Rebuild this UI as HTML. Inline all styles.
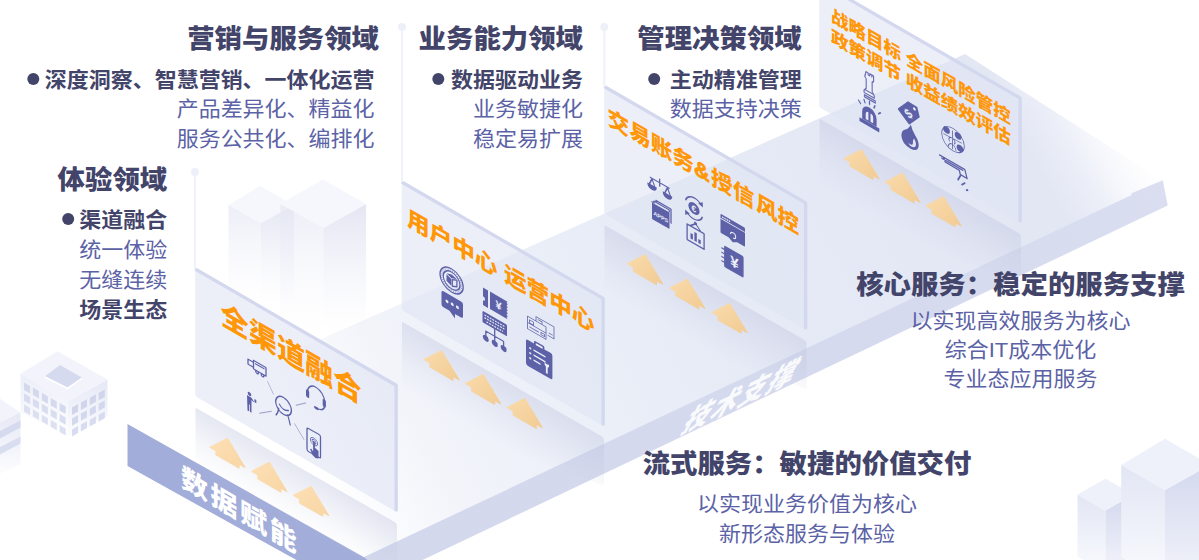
<!DOCTYPE html>
<html lang="zh-CN"><head><meta charset="utf-8"><title>架构</title>
<style>
html,body{margin:0;padding:0;background:#fff;}
body{width:1199px;height:560px;overflow:hidden;position:relative;font-family:"Liberation Sans","Noto Sans CJK SC",sans-serif;}
svg{position:absolute;left:0;top:0;display:block}
text{font-family:"Liberation Sans","Noto Sans CJK SC",sans-serif;}
.h{font-weight:900;font-size:27.4px;fill:#43446a;}
.b{font-weight:700;font-size:22px;fill:#43446a;}
.r{font-weight:400;font-size:22px;fill:#5b62a6;}
.o{font-weight:900;fill:#ff9708;}
.ic{fill:#5d61a8;stroke:none}
.il{fill:none;stroke:#5d61a8;stroke-width:1.3;stroke-linecap:round;stroke-linejoin:round}
.it{fill:none;stroke:#5d61a8;stroke-width:0.8;stroke-linecap:round;stroke-linejoin:round}
.iw{fill:#eef0fa;stroke:none}
</style></head><body>
<svg width="1199" height="560" viewBox="0 0 1199 560">
<defs>
<linearGradient id="gfloor" gradientUnits="userSpaceOnUse" x1="330" y1="500" x2="1150" y2="60">
<stop offset="0" stop-color="#ffffff"/><stop offset="0.06" stop-color="#f9fafd"/><stop offset="0.12" stop-color="#f2f4fa"/><stop offset="0.3" stop-color="#ebeff8"/><stop offset="0.45" stop-color="#e7ebf6"/><stop offset="0.72" stop-color="#e4e8f5"/><stop offset="0.84" stop-color="#e3e7f4"/><stop offset="0.88" stop-color="#eceff8"/><stop offset="0.906" stop-color="#f6f7fc"/><stop offset="0.93" stop-color="#fcfcfe"/><stop offset="0.95" stop-color="#ffffff"/>
</linearGradient>
<linearGradient id="gband" gradientUnits="userSpaceOnUse" x1="364" y1="557" x2="1165" y2="190">
<stop offset="0" stop-color="#d3d8ed"/><stop offset="0.7" stop-color="#d5daee"/><stop offset="1" stop-color="#dadef0"/>
</linearGradient>
<linearGradient id="garrow" x1="0" y1="0" x2="1" y2="1">
<stop offset="0" stop-color="#fadbab"/><stop offset="1" stop-color="#f1cb94"/>
</linearGradient>
<linearGradient id="garrow0" x1="0" y1="0" x2="1" y2="1">
<stop offset="0" stop-color="#fde0b5"/><stop offset="1" stop-color="#f8d5a4"/>
</linearGradient>
<linearGradient id="gcl" x1="0" y1="0" x2="0" y2="1"><stop offset="0" stop-color="#e6e8f4" stop-opacity="0.75"/><stop offset="0.9" stop-color="#f4f5fb" stop-opacity="0"/></linearGradient>
<linearGradient id="gcr" x1="0" y1="0" x2="0" y2="1"><stop offset="0" stop-color="#dcdfef" stop-opacity="0.8"/><stop offset="0.9" stop-color="#eef0f8" stop-opacity="0"/></linearGradient>
<linearGradient id="gbl" x1="0" y1="0" x2="0" y2="1"><stop offset="0" stop-color="#e2e6f4"/><stop offset="1" stop-color="#fafbfe"/></linearGradient>
<linearGradient id="gbr" x1="0" y1="0" x2="0" y2="1"><stop offset="0" stop-color="#d3d8ed"/><stop offset="1" stop-color="#f3f4fb"/></linearGradient>
<linearGradient id="gsl" x1="0" y1="0" x2="0" y2="1"><stop offset="0" stop-color="#eceef8"/><stop offset="1" stop-color="#ffffff"/></linearGradient>
<linearGradient id="gsr" x1="0" y1="0" x2="0" y2="1"><stop offset="0" stop-color="#e5e8f5"/><stop offset="1" stop-color="#fdfdff"/></linearGradient>
</defs>

<g id="bg">
<polygon points="228.5,205.0 261.0,223.0 261.0,318.0 228.5,300.0" fill="url(#gcl)"/>
<polygon points="261.0,223.0 294.0,205.0 294.0,300.0 261.0,318.0" fill="url(#gcr)"/>
<polygon points="260.0,186.0 294.0,205.0 261.0,223.0 228.5,205.0" fill="#f6f7fc"/>
<polygon points="280.3,204.0 323.4,227.7 323.4,347.7 280.3,324.0" fill="url(#gcl)"/>
<polygon points="323.4,227.7 366.1,204.0 366.1,324.0 323.4,347.7" fill="url(#gcr)"/>
<polygon points="322.7,179.5 366.1,204.0 323.4,227.7 280.3,204.0" fill="#f6f7fc"/>
<polygon points="1077.5,494.5 1105.5,510.5 1105.5,572.5 1077.5,556.5" fill="url(#gbl)"/>
<polygon points="1105.5,510.5 1133.5,494.5 1133.5,556.5 1105.5,572.5" fill="url(#gbr)"/>
<polygon points="1105.5,478.7 1133.5,494.5 1105.5,510.5 1077.5,494.5" fill="#eff1fa"/>
<polygon points="1121.2,465.0 1165.0,490.0 1165.0,582.0 1121.2,557.0" fill="url(#gbl)"/>
<polygon points="1165.0,490.0 1210.0,465.0 1210.0,557.0 1165.0,582.0" fill="url(#gbr)"/>
<polygon points="1165.0,438.7 1210.0,465.0 1165.0,490.0 1121.2,465.0" fill="#eef0fa"/>
<polygon points="0.0,398.7 20.5,412.5 0.0,422.5" fill="#f3f4fb"/>
<polygon points="0.0,422.5 20.5,412.5 20.5,464.0 0.0,474.0" fill="url(#gsr)"/>
<polygon points="0.0,431.0 20.5,420.5 20.5,427.5 0.0,438.5" fill="#d6daee"/>
<polygon points="0.0,447.0 20.5,436.5 20.5,443.5 0.0,454.5" fill="#d9ddf0"/>
<polygon points="20.5,373.7 68.0,401.2 68.0,437.0 20.5,412.0" fill="url(#gsl)"/>
<polygon points="68.0,401.2 107.5,379.5 107.5,416.0 68.0,437.0" fill="url(#gsr)"/>
<polygon points="57.5,351.2 107.5,379.5 68.0,401.2 20.5,373.7" fill="#f3f4fb"/>
<polygon points="60.0,365.0 82.0,377.5 67.5,387.5 45.0,376.2" fill="#d6daee"/>
<polygon points="82.0,377.5 82.0,379.3 67.5,389.5 45.0,378.0 45.0,376.2 67.5,387.5" fill="#ffffff"/>
<polygon points="24.0,382.5 30.1,386.0 30.1,393.5 24.0,390.0" fill="#d5d9ee" fill-opacity="1.00"/>
<polygon points="32.9,387.6 39.0,391.1 39.0,398.6 32.9,395.1" fill="#d5d9ee" fill-opacity="1.00"/>
<polygon points="41.8,392.7 47.9,396.2 47.9,403.7 41.8,400.2" fill="#d5d9ee" fill-opacity="1.00"/>
<polygon points="50.7,397.9 56.8,401.4 56.8,408.9 50.7,405.4" fill="#d5d9ee" fill-opacity="1.00"/>
<polygon points="59.6,403.0 65.7,406.5 65.7,414.0 59.6,410.5" fill="#d5d9ee" fill-opacity="1.00"/>
<polygon points="72.0,407.5 78.1,404.1 78.1,411.6 72.0,415.0" fill="#d0d5ec" fill-opacity="1.00"/>
<polygon points="80.9,402.6 87.0,399.2 87.0,406.7 80.9,410.1" fill="#d0d5ec" fill-opacity="1.00"/>
<polygon points="89.8,397.7 95.9,394.3 95.9,401.8 89.8,405.2" fill="#d0d5ec" fill-opacity="1.00"/>
<polygon points="98.7,392.8 104.8,389.4 104.8,396.9 98.7,400.3" fill="#d0d5ec" fill-opacity="1.00"/>
<polygon points="24.0,393.5 30.1,397.0 30.1,404.2 24.0,400.7" fill="#d5d9ee" fill-opacity="0.90"/>
<polygon points="32.9,398.6 39.0,402.1 39.0,409.3 32.9,405.8" fill="#d5d9ee" fill-opacity="0.90"/>
<polygon points="41.8,403.7 47.9,407.2 47.9,414.4 41.8,410.9" fill="#d5d9ee" fill-opacity="0.90"/>
<polygon points="50.7,408.9 56.8,412.4 56.8,419.6 50.7,416.1" fill="#d5d9ee" fill-opacity="0.90"/>
<polygon points="59.6,414.0 65.7,417.5 65.7,424.7 59.6,421.2" fill="#d5d9ee" fill-opacity="0.90"/>
<polygon points="72.0,418.5 78.1,415.1 78.1,422.3 72.0,425.7" fill="#d0d5ec" fill-opacity="0.90"/>
<polygon points="80.9,413.6 87.0,410.2 87.0,417.4 80.9,420.8" fill="#d0d5ec" fill-opacity="0.90"/>
<polygon points="89.8,408.7 95.9,405.3 95.9,412.5 89.8,415.9" fill="#d0d5ec" fill-opacity="0.90"/>
<polygon points="98.7,403.8 104.8,400.4 104.8,407.6 98.7,411.0" fill="#d0d5ec" fill-opacity="0.90"/>
<polygon points="24.0,404.5 30.1,408.0 30.1,414.9 24.0,411.4" fill="#d5d9ee" fill-opacity="0.80"/>
<polygon points="32.9,409.6 39.0,413.1 39.0,420.0 32.9,416.5" fill="#d5d9ee" fill-opacity="0.80"/>
<polygon points="41.8,414.7 47.9,418.2 47.9,425.1 41.8,421.6" fill="#d5d9ee" fill-opacity="0.80"/>
<polygon points="50.7,419.9 56.8,423.4 56.8,430.3 50.7,426.8" fill="#d5d9ee" fill-opacity="0.80"/>
<polygon points="59.6,425.0 65.7,428.5 65.7,435.4 59.6,431.9" fill="#d5d9ee" fill-opacity="0.80"/>
<polygon points="72.0,429.5 78.1,426.1 78.1,433.0 72.0,436.4" fill="#d0d5ec" fill-opacity="0.80"/>
<polygon points="80.9,424.6 87.0,421.2 87.0,428.1 80.9,431.5" fill="#d0d5ec" fill-opacity="0.80"/>
<polygon points="89.8,419.7 95.9,416.3 95.9,423.2 89.8,426.6" fill="#d0d5ec" fill-opacity="0.80"/>
<polygon points="98.7,414.8 104.8,411.4 104.8,418.3 98.7,421.7" fill="#d0d5ec" fill-opacity="0.80"/>
</g>
<polygon points="128.0,424.5 965.0,54.0 1163.0,181.0 364.0,557.0" fill="url(#gfloor)"/>
<polygon points="364.0,557.0 1131.5,195.0 1131.5,193.2 1162.8,180.2 1167.7,205.6 422.5,560.0 364.0,560.0" fill="url(#gband)"/>
<polygon points="127.5,424.0 364.0,557.2 370.0,562.0 300.0,562.0 127.5,466.0" fill="#a2adda"/>
<linearGradient id="gp3" gradientUnits="userSpaceOnUse" x1="819.5" y1="118.5" x2="790.6" y2="168.8"><stop offset="0" stop-color="#bec3de" stop-opacity="0.4"/><stop offset="0.3" stop-color="#bec3de" stop-opacity="0.26"/><stop offset="0.65" stop-color="#bec3de" stop-opacity="0.11"/><stop offset="1" stop-color="#bec3de" stop-opacity="0"/></linearGradient>
<path d="M819.5,120.0 Q819.5,118.5 821.0,119.4 L1019.0,233.2 Q1021.0,234.4 1021.0,236.9 L1021.0,282.4 L819.5,210.5 Z" fill="url(#gp3)"/>
<polygon points="861.5,149.7 879.0,178.7 873.0,175.3 873.0,179.3 850.0,166.0 850.0,162.0 844.0,158.6" fill="url(#garrow)" stroke="url(#garrow)" stroke-width="1.2" stroke-linejoin="round"/>
<polygon points="902.5,173.2 920.0,202.3 914.0,198.8 914.0,202.8 891.0,189.6 891.0,185.6 885.0,182.2" fill="url(#garrow)" stroke="url(#garrow)" stroke-width="1.2" stroke-linejoin="round"/>
<polygon points="943.5,196.8 961.0,225.9 955.0,222.4 955.0,226.4 932.0,213.2 932.0,209.2 926.0,205.7" fill="url(#garrow)" stroke="url(#garrow)" stroke-width="1.2" stroke-linejoin="round"/>
<path d="M819.2,-16.9 Q819.2,-19.1 821.4,-17.8 L1019.6,96.2 Q1021.8,97.4 1021.8,99.6 L1021.8,221.4 Q1021.8,223.6 1019.6,222.4 L821.4,108.4 Q819.2,107.1 819.2,104.9 Z" fill="#e0e5f4" fill-opacity="0.6"/>
<polyline points="820.5,-17.3 1020.1,98.1 1020.1,220.9" fill="none" stroke="#d3d8ee" stroke-width="3.3" stroke-linejoin="round" stroke-linecap="round"/>
<g transform="matrix(1,0.575,0,1,819.5,-17.6)"><path class="il" stroke-width="0.8" stroke-opacity="0.9" transform="translate(50.2 0) scale(0.88 1) translate(-50.2 0)" d="M46,62.5 h2.4 v2 h1.8 v-2 h2.4 v2 h-0 v-2 h2 v5.5 l-1.6,1.6 v9.5 l2.4,3 v2.2 h-11.6 v-2.2 l2.4,-3 v-9.5 l-1.6,-1.6 z M45.8,81 h9.2 M44.2,86.5 h12.4 v2 h-12.4 z"/><path class="ic" d="M42.7,111.5 v-7.5 a7.2,7.6 0 0,1 14.4,0 v7.5 z M40,111.8 h19.8 v3.8 h-19.8 z"/><path class="iw" d="M46.2,110 v-5.2 a2.4,3.2 0 0,1 2.7,-3.1 v8.3 z M51,110 v-8.3 a2.4,3.2 0 0,1 2.7,3.1 v5.2 z" fill-opacity="0.95"/><path class="il" stroke-width="1.1" d="M41,97.5 l-2,-2.2 M45.5,94.2 l-1,-2.8 M50,93.2 v-3 M54.5,94.2 l1,-2.8 M59,97.5 l2,-2.2"/><g transform="rotate(-52 91 77)"><path class="ic" d="M80.5,69.5 h16 l5.5,7.5 l-5.5,7.5 h-16 a1.2,1.2 0 0,1 -1.2,-1.2 v-12.6 a1.2,1.2 0 0,1 1.2,-1.2 z"/><circle class="iw" cx="97.3" cy="77" r="1.4"/><text x="87.3" y="81.2" font-size="11.5" font-weight="700" fill="#eef0fa" text-anchor="middle">$</text></g><path class="ic" d="M91.3,89.5 q1.2,5 4.6,8.6 q3.6,3.8 3.2,8.4 q-0.6,7 -8.4,7.4 q-8.4,-0.2 -8.8,-7.6 q-0.2,-5 3.8,-8.4 q4,-3.4 5.6,-8.4 z"/><path class="iw" d="M94.6,101.6 q2.6,3.4 1.6,6.6 q-1,3 -4.4,3.2 q-2.4,-0.2 -3,-2.6 q1.4,1.4 3,0.8 q2,-0.8 1.6,-3.4 q-0.2,-2 1.2,-4.6 z" fill-opacity="0.92"/><circle class="it" cx="133.5" cy="80.5" r="11.3"/><circle class="ic" cx="127" cy="74.5" r="3.4"/><circle class="ic" cx="138.6" cy="73.8" r="3.4"/><circle class="ic" cx="140.5" cy="85.2" r="3.4"/><path class="it" d="M130,84 a3,3 0 1,1 5,0 M128.6,90 q1,-4.6 4,-4.6 q3,0 4,4.6 M133,72 v18 M124,80 l18,-1"/><path class="il" transform="translate(133 112) scale(1.12) translate(-133 -112)" stroke-width="1.1" d="M121.5,104.5 h22.5 l2,6.8 h-6 l-1,-3.4 h-12.5 l-1.6,-3.4 z M123.5,106.2 h18.6 M140.5,111.3 l-2.6,5.8 M144,116.5 l-2.6,3 M146.5,121.2 l-1,1"/></g>
<linearGradient id="gp2" gradientUnits="userSpaceOnUse" x1="604.5" y1="225.1" x2="575.6" y2="275.4"><stop offset="0" stop-color="#bec3de" stop-opacity="0.4"/><stop offset="0.3" stop-color="#bec3de" stop-opacity="0.26"/><stop offset="0.65" stop-color="#bec3de" stop-opacity="0.11"/><stop offset="1" stop-color="#bec3de" stop-opacity="0"/></linearGradient>
<path d="M604.5,226.6 Q604.5,225.1 606.0,226.0 L804.5,340.1 Q806.5,341.2 806.5,343.8 L806.5,389.2 L604.5,317.1 Z" fill="url(#gp2)"/>
<polygon points="645.0,254.9 662.5,283.9 656.5,280.5 656.5,284.5 633.5,271.3 633.5,267.3 627.5,263.8" fill="url(#garrow)" stroke="url(#garrow)" stroke-width="1.2" stroke-linejoin="round"/>
<polygon points="687.3,279.2 704.8,308.3 698.8,304.8 698.8,308.8 675.8,295.6 675.8,291.6 669.8,288.1" fill="url(#garrow)" stroke="url(#garrow)" stroke-width="1.2" stroke-linejoin="round"/>
<polygon points="729.6,303.5 747.1,332.6 741.1,329.1 741.1,333.1 718.1,319.9 718.1,315.9 712.1,312.5" fill="url(#garrow)" stroke="url(#garrow)" stroke-width="1.2" stroke-linejoin="round"/>
<path d="M604.2,87.7 Q604.2,85.5 606.4,86.8 L805.1,201.0 Q807.3,202.3 807.3,204.5 L807.3,328.3 Q807.3,330.5 805.1,329.2 L606.4,215.0 Q604.2,213.7 604.2,211.5 Z" fill="#e0e5f4" fill-opacity="0.6"/>
<polyline points="605.5,87.3 805.6,202.9 805.6,327.8" fill="none" stroke="#d3d8ee" stroke-width="3.3" stroke-linejoin="round" stroke-linecap="round"/>
<g transform="matrix(1,0.575,0,1,604.5,87.0)"><g transform="translate(0,2.5)"><path class="il" stroke-width="1.5" d="M55.2,58 v7 M45.8,61.5 h18.8 M47.5,62 l-2.6,6.5 M47.5,62 l2.8,6.5 M63,62 l-2.6,6.5 M63,62 l2.8,6.5"/><path class="ic" d="M42.8,68.2 h9.6 a4.8,5 0 0,1 -9.6,0 z M58.2,68.2 h9.6 a4.8,5 0 0,1 -9.6,0 z"/></g><g transform="translate(0.5,3)"><path class="il" stroke-width="1" d="M47,84.5 h2 v-1.8 h2 v-1.8 h15 v14 M49,84.5 v-0 M51,82.7 h13.2 v1.8"/><rect class="ic" x="47" y="85.2" width="17.5" height="16.5" rx="0.8"/><text x="55.8" y="96.6" font-size="5.4" font-weight="700" fill="#eef0fa" text-anchor="middle">APPS</text></g><circle class="ic" cx="89.5" cy="70" r="5.6"/><text x="89.4" y="73.2" font-size="8.6" font-weight="700" fill="#eef0fa" text-anchor="middle">€</text><path class="il" stroke-width="1.2" d="M81.2,66 a9.3,9.8 0 0,1 15,-4.2 M97.8,74 a9.3,9.8 0 0,1 -15,4.2"/><path class="ic" d="M98.2,58.8 l0.2,5 l-4.8,-1.4 z M80.8,81.2 l-0.2,-5 l4.8,1.4 z"/><path class="il" stroke-width="1.3" d="M82.6,89.5 h17 v15.5 h-17 z M85.5,89.5 l5.6,-5.2 l5.6,5.2"/><circle class="ic" cx="91.1" cy="84" r="1.5"/><rect class="ic" x="86" y="96.5" width="2.4" height="5.5"/><rect class="ic" x="89.9" y="93.3" width="2.4" height="8.7"/><rect class="ic" x="93.8" y="98" width="2.4" height="4"/><path class="ic" d="M117,60 h22.5 a1,1 0 0,1 1,1 v17 a1,1 0 0,1 -1,1 h-22.5 a1,1 0 0,1 -1,-1 v-17 a1,1 0 0,1 1,-1 z"/><path d="M116,64.6 h24.5" stroke="#eef0fa" stroke-width="0.9" fill="none"/><path d="M117.6,62.3 h8" stroke="#eef0fa" stroke-width="1.5" stroke-dasharray="1.4 0.8" fill="none"/><path class="ic" stroke="#eef0fa" stroke-width="1" d="M128.3,66.8 l6.2,2 v5 q0,5 -6.2,7.6 q-6.2,-2.6 -6.2,-7.6 v-5 z"/><path d="M126,74.5 a2.6,2.6 0 1,1 2.6,2.6" stroke="#eef0fa" stroke-width="1" fill="none"/><rect class="ic" x="119.6" y="89.5" width="19.5" height="21.5" rx="1.6"/><path class="il" stroke-width="1.7" d="M117.4,93.5 h4 M117.4,97.8 h4 M117.4,102.1 h4 M117.4,106.4 h4"/><text x="130" y="106" font-size="15" font-weight="700" fill="#eef0fa" text-anchor="middle">¥</text></g>
<linearGradient id="gp1" gradientUnits="userSpaceOnUse" x1="402.0" y1="321.5" x2="373.1" y2="371.8"><stop offset="0" stop-color="#bec3de" stop-opacity="0.4"/><stop offset="0.3" stop-color="#bec3de" stop-opacity="0.26"/><stop offset="0.65" stop-color="#bec3de" stop-opacity="0.11"/><stop offset="1" stop-color="#bec3de" stop-opacity="0"/></linearGradient>
<path d="M402.0,323.0 Q402.0,321.5 403.5,322.4 L602.0,436.4 Q604.0,437.6 604.0,440.1 L604.0,485.6 L402.0,413.5 Z" fill="url(#gp1)"/>
<polygon points="441.5,350.7 459.0,379.8 453.0,376.3 453.0,380.3 430.0,367.1 430.0,363.1 424.0,359.6" fill="url(#garrow)" stroke="url(#garrow)" stroke-width="1.2" stroke-linejoin="round"/>
<polygon points="483.1,374.6 500.6,403.7 494.6,400.2 494.6,404.2 471.6,391.0 471.6,387.0 465.6,383.6" fill="url(#garrow)" stroke="url(#garrow)" stroke-width="1.2" stroke-linejoin="round"/>
<polygon points="524.7,398.6 542.2,427.6 536.2,424.2 536.2,428.2 513.2,414.9 513.2,410.9 507.2,407.5" fill="url(#garrow)" stroke="url(#garrow)" stroke-width="1.2" stroke-linejoin="round"/>
<path d="M401.7,183.2 Q401.7,181.0 403.9,182.3 L602.6,296.5 Q604.8,297.8 604.8,300.0 L604.8,424.7 Q604.8,426.9 602.6,425.6 L403.9,311.4 Q401.7,310.1 401.7,307.9 Z" fill="#e0e5f4" fill-opacity="0.6"/>
<polyline points="403.0,182.8 603.1,298.4 603.1,424.1" fill="none" stroke="#d3d8ee" stroke-width="3.3" stroke-linejoin="round" stroke-linecap="round"/>
<g transform="matrix(1,0.575,0,1,402.0,182.5)"><circle class="il" cx="49.6" cy="69.5" r="11.6" stroke-width="0.9"/><circle class="il" cx="49.6" cy="69.5" r="8.4" stroke-width="0.8"/><circle cx="49.6" cy="69.5" r="10" fill="none" stroke="#5d61a8" stroke-width="1.5" stroke-dasharray="0.6 1.3" stroke-opacity="0.75"/><path class="ic" d="M44.5,65.2 l5.2,-1.8 l5.2,1.8 l-5.2,2 z M44.5,66.2 l4.8,2 v6.6 l-4.8,-2.2 z"/><path class="il" stroke-width="0.8" d="M50.3,68.2 l4.6,-2 v6.4 l-4.6,2.2 z"/><g transform="translate(0,3)"><path class="ic" d="M41.5,82 h17.5 a2,2 0 0,1 2,2 v12 a2,2 0 0,1 -2,2 h-6 l0,4.5 l-5.5,-4.5 h-6 a2,2 0 0,1 -2,-2 v-12 a2,2 0 0,1 2,-2 z"/><circle class="iw" cx="45" cy="90" r="1.5"/><circle class="iw" cx="50.2" cy="90" r="1.5"/><circle class="iw" cx="55.4" cy="90" r="1.5"/></g><path class="ic" d="M81,58.5 h5 v17.5 h-5 v-4.8 a2,2 0 0,0 0,-4 v-4 z M88,58.5 h17.5 v17.5 h-17.5 z"/><path d="M105.5,59 v17" stroke="#eef0fa" stroke-width="1.4" stroke-dasharray="1.4 1.6" fill="none"/><text x="96.6" y="71.3" font-size="11" font-weight="700" fill="#eef0fa" text-anchor="middle">¥</text><g transform="translate(0,2)"><rect class="ic" x="80.5" y="80" width="24.5" height="11.5" rx="1"/><path d="M82.5,83 h20.5 M82.5,85.8 h20.5 M84.5,88.8 h16.5" stroke="#eef0fa" stroke-width="1.3" stroke-dasharray="1.7 0.9" fill="none"/><path class="il" stroke-width="1.2" d="M92.7,91.5 v7 M83.8,103 v-4.5 h17.8 v4.5 M92.7,98.5 v4.5"/><circle class="ic" cx="83.8" cy="105.6" r="3"/><circle class="ic" cx="92.7" cy="105.6" r="3"/><circle class="ic" cx="101.6" cy="105.6" r="3"/></g><path class="it" transform="translate(0,3)" d="M134,54 h18 v12 h-6 M134,54 v4 M125.5,58.5 h18.5 v12.5 h-18.5 z M127.5,61 h4 v3 h-4 z M136,56 h4 v2.3 M127.5,68 h9 M139,67 h3.5 v2.2 h-3.5 z M147,63 h3.5 M125.5,64.8 h18.5" /><path class="ic" d="M126,85 h6 v-1.6 a1.4,1.4 0 0,1 1.4,-1.4 h7.6 a1.4,1.4 0 0,1 1.4,1.4 v1.6 h6 a2,2 0 0,1 2,2 v22 a2,2 0 0,1 -2,2 h-22.4 a2,2 0 0,1 -2,-2 v-22 a2,2 0 0,1 2,-2 z"/><rect class="iw" x="133.7" y="83.6" width="7" height="2" rx="0.8"/><path d="M131.5,92 h12 M131.5,97 h12 M131.5,102 h7" stroke="#eef0fa" stroke-width="1.5" fill="none"/><circle class="iw" cx="128.3" cy="92" r="1.1"/><circle class="iw" cx="128.3" cy="97" r="1.1"/><circle class="iw" cx="128.3" cy="102" r="1.1"/><path class="iw" d="M142.6,97.6 a2.9,2.9 0 0,0 4.4,0 l0,2.4 l-1.3,1.4 v6.4 h-1.8 v-6.4 l-1.3,-1.4 z"/></g>
<linearGradient id="gp0" gradientUnits="userSpaceOnUse" x1="195.5" y1="407.5" x2="169.6" y2="452.6"><stop offset="0" stop-color="#bec3de" stop-opacity="0.4"/><stop offset="0.3" stop-color="#bec3de" stop-opacity="0.26"/><stop offset="0.65" stop-color="#bec3de" stop-opacity="0.11"/><stop offset="1" stop-color="#bec3de" stop-opacity="0"/></linearGradient>
<path d="M195.5,409.0 Q195.5,407.5 197.0,408.4 L395.0,522.2 Q397.0,523.4 397.0,525.9 L397.0,571.4 L195.5,499.5 Z" fill="url(#gp0)"/>
<polygon points="227.5,438.4 245.0,467.5 239.0,464.0 239.0,468.0 216.0,454.8 216.0,450.8 210.0,447.3" fill="url(#garrow0)" stroke="url(#garrow0)" stroke-width="1.2" stroke-linejoin="round"/>
<polygon points="269.3,462.4 286.8,491.5 280.8,488.0 280.8,492.0 257.8,478.8 257.8,474.8 251.8,471.4" fill="url(#garrow0)" stroke="url(#garrow0)" stroke-width="1.2" stroke-linejoin="round"/>
<polygon points="311.1,486.5 328.6,515.5 322.6,512.1 322.6,516.1 299.6,502.9 299.6,498.9 293.6,495.4" fill="url(#garrow0)" stroke="url(#garrow0)" stroke-width="1.2" stroke-linejoin="round"/>
<path d="M195.2,270.2 Q195.2,268.0 197.4,269.3 L395.6,383.3 Q397.8,384.5 397.8,386.7 L397.8,510.4 Q397.8,512.6 395.6,511.4 L197.4,397.4 Q195.2,396.1 195.2,393.9 Z" fill="#e0e5f4" fill-opacity="0.6"/>
<polyline points="196.5,269.8 396.1,385.2 396.1,509.9" fill="none" stroke="#d3d8ee" stroke-width="3.3" stroke-linejoin="round" stroke-linecap="round"/>
<g transform="matrix(1,0.575,0,1,195.5,269.5)"><path class="it" stroke-width="0.7" d="M72,70.5 L78,80 M64,107 L76,98 M100.5,78 L110.3,70 M99,97.2 L108.4,107.6" stroke-opacity="0.55"/><path class="il" stroke-width="1.6" d="M88,77.4 a7.8,8.4 0 1,0 0.1,0 M83.2,91 q-0.6,5 -2.6,8 M92.3,92.5 q1.6,5 2.4,8.5 M84,86.5 q3.6,4.6 9,1"/><path class="il" stroke-width="1.1" d="M52.5,59.5 h5.5 v-2 h12.5 v8.5 h-12.5 v-1.5 h-5.5 z M58,59.5 v5 M60,59.8 h8.5 M61.5,66 a1.3,1.3 0 1,0 0.1,0 M67,66 a1.3,1.3 0 1,0 0.1,0"/><circle class="ic" cx="54" cy="93.5" r="1.8"/><path class="ic" d="M51.5,96 h4.5 l2.5,2.5 l-0.8,0.9 l-1.7,-1.4 v5 l0,8 h-1.6 v-7 h-0.8 v7 h-1.6 z"/><rect class="ic" x="59" y="95.5" width="1.8" height="3.2"/><path class="il" stroke-width="1.7" d="M112,58 a8.5,9.5 0 0,1 17,0 v4 q0,6 -7,7"/><rect class="ic" x="110.5" y="56" width="3.2" height="7.5" rx="1.2"/><rect class="ic" x="127.2" y="56" width="3.2" height="7.5" rx="1.2"/><rect class="ic" x="118.5" y="67.8" width="4.5" height="2.6" rx="1.2"/><g transform="translate(0,2)"><rect class="il" stroke-width="1.5" x="111.5" y="92" width="13.5" height="23" rx="1.6"/><circle class="it" cx="118.5" cy="102" r="2"/><circle class="it" cx="118.5" cy="102" r="3.6"/><path class="ic" d="M117.6,101.5 h1.8 v6 l3.6,1.2 v7.5 q-3,2.4 -6,0 l-2.4,-4.6 l1.3,-0.9 l1.7,1.8 z"/></g></g>
<line x1="195" y1="172" x2="195" y2="269" stroke="#f0f1f9" stroke-width="2"/>
<circle cx="195" cy="172" r="4" fill="#eef0f9"/>
<line x1="402" y1="27" x2="402" y2="182" stroke="#f0f1f9" stroke-width="2"/>
<circle cx="402" cy="27" r="4" fill="#eef0f9"/>
<line x1="604.3" y1="27" x2="604.3" y2="87" stroke="#f0f1f9" stroke-width="2"/>
<circle cx="604.3" cy="27" r="4" fill="#eef0f9"/>
<text class="o" transform="matrix(1,0.575,0,1,220.5,323)" font-size="28.2" letter-spacing="0">全渠道融合</text>
<text class="o" transform="matrix(1,0.575,0,1,407,225)" font-size="22.6" letter-spacing="0">用户中心</text>
<text class="o" transform="matrix(1,0.575,0,1,504,280.775)" font-size="22.6" letter-spacing="0">运营中心</text>
<text class="o" transform="matrix(1,0.575,0,1,607.6,124.2)" font-size="21.6" letter-spacing="0">交易账务<tspan stroke="#ff9708" stroke-width="0.9">&amp;</tspan><tspan dx="1.6">授信</tspan></text>
<text class="o" transform="matrix(1,0.575,0,1,756,209.46999999999997)" font-size="21.6" letter-spacing="0">风控</text>
<text class="o" transform="matrix(1,0.575,0,1,831,21)" font-size="17.5" letter-spacing="0">战略目标 全面风险管控</text>
<text class="o" transform="matrix(1,0.575,0,1,831,42)" font-size="17.5" letter-spacing="0">政策调节 收益绩效评估</text>
<text transform="matrix(1,0.58,0,1,181,486)" font-size="27" font-weight="900" fill="#fff" letter-spacing="2.6">数据赋能</text>
<text transform="matrix(0.9,-0.43,-0.6,1.115,679.5,434.4)" font-size="29" font-weight="900" fill="#fff" fill-opacity="0.9" letter-spacing="2.3">技术支撑</text>
<text class="h" transform="translate(379,47.9) scale(1,0.95)" text-anchor="end">营销与服务领域</text>
<text class="b" transform="translate(374.5,87.0) scale(1,0.95)" text-anchor="end">深度洞察、智慧营销、一体化运营</text>
<circle cx="33.3" cy="79" r="6" fill="#43446a"/>
<text class="r" transform="translate(374.5,116.0) scale(1,0.95)" text-anchor="end">产品差异化、精益化</text>
<text class="r" transform="translate(374.5,146.0) scale(1,0.95)" text-anchor="end">服务公共化、编排化</text>
<text class="h" transform="translate(583,47.9) scale(1,0.95)" text-anchor="end">业务能力领域</text>
<text class="b" transform="translate(583,87.0) scale(1,0.95)" text-anchor="end">数据驱动业务</text>
<circle cx="438.3" cy="79" r="6" fill="#43446a"/>
<text class="r" transform="translate(583,116.0) scale(1,0.95)" text-anchor="end">业务敏捷化</text>
<text class="r" transform="translate(583,146.0) scale(1,0.95)" text-anchor="end">稳定易扩展</text>
<text class="h" transform="translate(801.7,47.9) scale(1,0.95)" text-anchor="end">管理决策领域</text>
<text class="b" transform="translate(801.7,87.0) scale(1,0.95)" text-anchor="end">主动精准管理</text>
<circle cx="654.2" cy="79" r="6" fill="#43446a"/>
<text class="r" transform="translate(801.7,116.0) scale(1,0.95)" text-anchor="end">数据支持决策</text>
<text class="h" transform="translate(167.2,188.7) scale(1,0.95)" text-anchor="end">体验领域</text>
<text class="b" transform="translate(167.2,227.0) scale(1,0.95)" text-anchor="end">渠道融合</text>
<circle cx="68.2" cy="219" r="6" fill="#43446a"/>
<text class="r" transform="translate(167.2,257.0) scale(1,0.95)" text-anchor="end">统一体验</text>
<text class="r" transform="translate(167.2,287.0) scale(1,0.95)" text-anchor="end">无缝连续</text>
<text class="b" transform="translate(167.2,317.0) scale(1,0.95)" text-anchor="end">场景生态</text>
<text class="h" transform="translate(1020.5,293.9) scale(1,0.95)" text-anchor="middle">核心服务：稳定的服务支撑</text>
<text class="r" transform="translate(1020.5,327.5) scale(1,0.95)" text-anchor="middle">以实现高效服务为核心</text>
<text class="r" transform="translate(1020.5,357.0) scale(1,0.95)" text-anchor="middle">综合IT成本优化</text>
<text class="r" transform="translate(1020.5,386.0) scale(1,0.95)" text-anchor="middle">专业态应用服务</text>
<text class="h" transform="translate(807,473.2) scale(1,0.95)" text-anchor="middle">流式服务：敏捷的价值交付</text>
<text class="r" transform="translate(807,511.0) scale(1,0.95)" text-anchor="middle">以实现业务价值为核心</text>
<text class="r" transform="translate(807,540.5) scale(1,0.95)" text-anchor="middle">新形态服务与体验</text>
</svg></body></html>
